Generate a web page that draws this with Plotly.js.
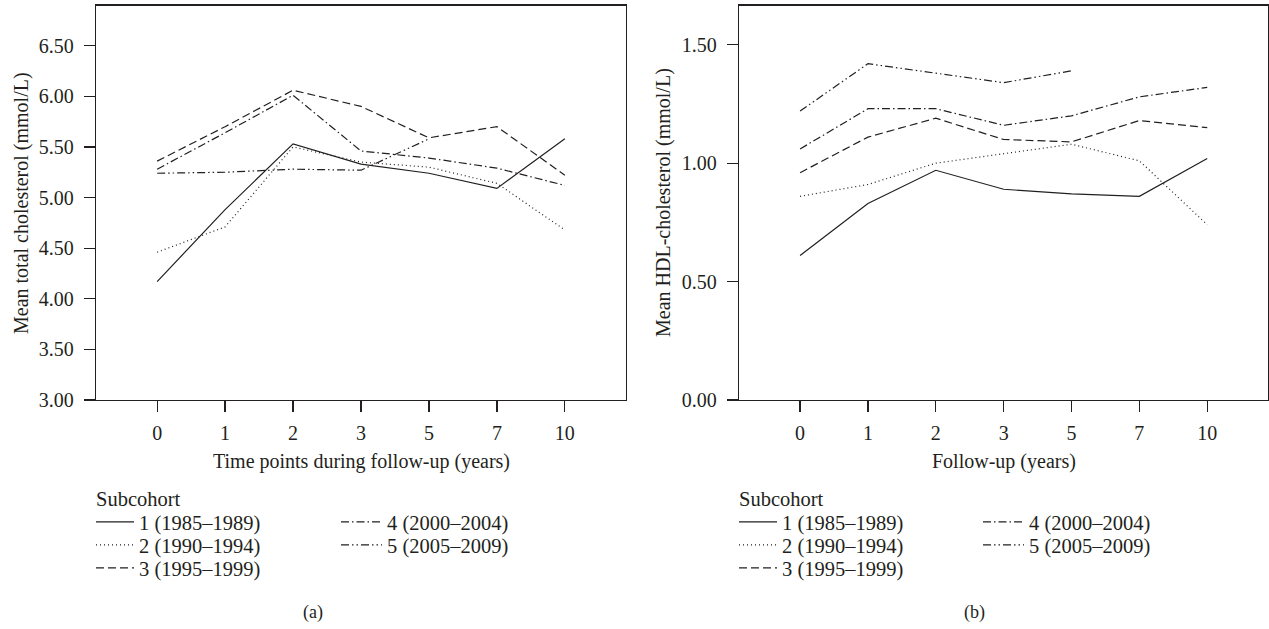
<!DOCTYPE html>
<html>
<head>
<meta charset="utf-8">
<script src="https://cdn.plot.ly/plotly-3.0.1.min.js"></script>
<style>html,body{margin:0;padding:0;background:#fff;}#chart{width:1269px;height:629px;}</style>
</head>
<body>
<div id="chart"></div>
<script>
// ---- data ----
const timePoints = ["0", "1", "2", "3", "5", "7", "10"];
const subcohortNames = ["1 (1985–1989)", "2 (1990–1994)", "3 (1995–1999)", "4 (2000–2004)", "5 (2005–2009)"];
const tc1 = [4.17, 4.88, 5.53, 5.33, 5.24, 5.09, 5.58];
const tc2 = [4.46, 4.71, 5.50, 5.35, 5.30, 5.14, 4.68];
const tc3 = [5.36, 5.70, 6.06, 5.90, 5.59, 5.70, 5.22];
const tc4 = [5.28, 5.64, 6.01, 5.46, 5.39, 5.29, 5.12];
const tc5 = [5.24, 5.25, 5.28, 5.27, 5.58];
const hdl1 = [0.61, 0.83, 0.97, 0.89, 0.87, 0.86, 1.02];
const hdl2 = [0.86, 0.91, 1.00, 1.04, 1.08, 1.01, 0.74];
const hdl3 = [0.96, 1.11, 1.19, 1.10, 1.09, 1.18, 1.15];
const hdl4 = [1.06, 1.23, 1.23, 1.16, 1.20, 1.28, 1.32];
const hdl5 = [1.22, 1.42, 1.38, 1.34, 1.39];
const tcTickVals = [3.0, 3.5, 4.0, 4.5, 5.0, 5.5, 6.0, 6.5];
const tcTickText = ["3.00", "3.50", "4.00", "4.50", "5.00", "5.50", "6.00", "6.50"];
const hdlTickVals = [0.0, 0.5, 1.0, 1.5];
const hdlTickText = ["0.00", "0.50", "1.00", "1.50"];

// ---- styling ----
const W = 1269, H = 629;
const FONT = "Liberation Serif, Times New Roman, serif";
const INK = "#231f20";
const dashes = ["solid", "1px,3px", "8px,4px", "8px,3px,1.5px,3px", "8px,3px,1.5px,3px,1.5px,3px"];
const fx = p => p / W;
const fy = p => 1 - p / H;

// legend placement (pixel positions of each key line start and row centre)
const legCol1 = [96, 739], legCol2 = [341, 983];
const legRowY = [522, 545, 568];

const tcSeries = [tc1, tc2, tc3, tc4, tc5];
const hdlSeries = [hdl1, hdl2, hdl3, hdl4, hdl5];
const traces = [];
const legendDefs = {};
const legFont = {family: FONT, size: 20.5, color: INK};

function addChart(series, panel, xa, ya) {
  series.forEach((s, i) => {
    const legName = "legend" + (panel * 5 + i + 1 === 1 ? "" : String(panel * 5 + i + 1));
    traces.push({
      type: "scatter", mode: "lines", x: timePoints.slice(0, s.length), y: s,
      name: subcohortNames[i], xaxis: xa, yaxis: ya,
      line: {color: INK, width: 1.2, dash: dashes[i]},
      legend: legName
    });
    const col2 = i >= 3;
    const iw = col2 ? 41 : 38;
    const lx = (col2 ? legCol2 : legCol1)[panel] - 5;
    const ly = legRowY[col2 ? i - 3 : i];
    legendDefs[legName] = {
      x: fx(lx), y: fy(ly), xanchor: "left", yanchor: "middle", xref: "paper", yref: "paper",
      orientation: "v", font: legFont, bgcolor: "rgba(0,0,0,0)", borderwidth: 0,
      itemwidth: iw, tracegroupgap: 0, itemclick: false, itemdoubleclick: false
    };
  });
}
addChart(tcSeries, 0, "x", "y");
addChart(hdlSeries, 1, "x2", "y2");

const tickFont = {family: FONT, size: 20, color: INK};
function xAxis(domain, anchor) {
  return {
    domain: domain, anchor: anchor, type: "category", range: [-0.9, 6.9],
    showline: true, mirror: true, linecolor: INK, linewidth: 1.3,
    ticks: "outside", ticklen: 11, tickwidth: 1.3, tickcolor: INK,
    showgrid: false, zeroline: false, tickfont: tickFont, ticklabelstandoff: 4,
    fixedrange: true
  };
}
function yAxis(range, vals, text, anchor) {
  return {
    domain: [fy(400), fy(5.7)], anchor: anchor, range: range,
    tickmode: "array", tickvals: vals, ticktext: text,
    showline: true, mirror: true, linecolor: INK, linewidth: 1.3,
    ticks: "outside", ticklen: 11, tickwidth: 1.3, tickcolor: INK,
    showgrid: false, zeroline: false, tickfont: tickFont, ticklabelstandoff: 6,
    fixedrange: true
  };
}

const annFont = {family: FONT, size: 20, color: INK};
const layout = Object.assign({
  width: W, height: H, margin: {l: 0, r: 0, t: 0, b: 0},
  paper_bgcolor: "#fff", plot_bgcolor: "#fff", showlegend: true,
  xaxis: xAxis([fx(96), fx(626)], "y"),
  yaxis: yAxis([3.0, 6.895], tcTickVals, tcTickText, "x"),
  xaxis2: xAxis([fx(739), fx(1268.3)], "y2"),
  yaxis2: yAxis([0.0, 1.665], hdlTickVals, hdlTickText, "x2"),
  annotations: [
    {text: "Time points during follow-up (years)", xref: "paper", yref: "paper", x: fx(361), y: fy(461), xanchor: "center", yanchor: "middle", showarrow: false, font: annFont},
    {text: "Follow-up (years)", xref: "paper", yref: "paper", x: fx(1004), y: fy(461), xanchor: "center", yanchor: "middle", showarrow: false, font: annFont},
    {text: "Mean total cholesterol (mmol/L)", xref: "paper", yref: "paper", x: fx(21), y: fy(203), xanchor: "center", yanchor: "middle", textangle: -90, showarrow: false, font: annFont},
    {text: "Mean HDL-cholesterol (mmol/L)", xref: "paper", yref: "paper", x: fx(663), y: fy(203), xanchor: "center", yanchor: "middle", textangle: -90, showarrow: false, font: annFont},
    {text: "Subcohort", xref: "paper", yref: "paper", x: fx(94), y: fy(499), xanchor: "left", yanchor: "middle", showarrow: false, font: legFont},
    {text: "Subcohort", xref: "paper", yref: "paper", x: fx(737), y: fy(499), xanchor: "left", yanchor: "middle", showarrow: false, font: legFont},
    {text: "(a)", xref: "paper", yref: "paper", x: fx(313), y: fy(612), xanchor: "center", yanchor: "middle", showarrow: false, font: {family: FONT, size: 18, color: INK}},
    {text: "(b)", xref: "paper", yref: "paper", x: fx(974), y: fy(612), xanchor: "center", yanchor: "middle", showarrow: false, font: {family: FONT, size: 18, color: INK}}
  ]
}, legendDefs);

Plotly.newPlot("chart", traces, layout, {displayModeBar: false, staticPlot: true});
</script>
</body>
</html>
